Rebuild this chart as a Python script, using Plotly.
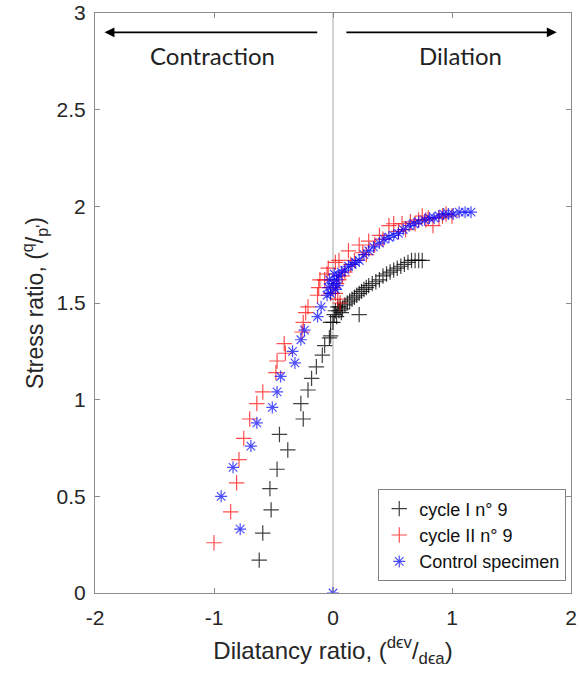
import plotly.graph_objects as go

# cycle I n° 9
c1_x = [-0.62, -0.59, -0.52, -0.53, -0.47, -0.38, -0.45, -0.25, -0.27, -0.21, -0.18, -0.14,
        -0.09, -0.07, -0.03, -0.02, -0.02, 0.00, 0.02, 0.01, 0.03, 0.05, 0.06, 0.08, 0.10,
        0.12, 0.14, 0.16, 0.18, 0.20, 0.22, 0.24, 0.26, 0.28, 0.30, 0.33, 0.36, 0.39, 0.42,
        0.45, 0.48, 0.51, 0.54, 0.57, 0.60, 0.63, 0.66, 0.69, 0.72, 0.75, 0.22, 0.04, 0.07]
c1_y = [0.17, 0.31, 0.43, 0.54, 0.64, 0.74, 0.82, 0.90, 0.98, 1.05, 1.11, 1.17,
        1.23, 1.28, 1.32, 1.33, 1.40, 1.40, 1.46, 1.44, 1.43, 1.46, 1.48, 1.47, 1.49,
        1.50, 1.51, 1.52, 1.53, 1.54, 1.55, 1.56, 1.57, 1.58, 1.59, 1.60, 1.61, 1.62, 1.64,
        1.65, 1.66, 1.67, 1.68, 1.69, 1.70, 1.71, 1.72, 1.72, 1.72, 1.72, 1.44, 1.48, 1.45]

# cycle II n° 9
c2_x = [-1.00, -0.86, -0.81, -0.79, -0.75, -0.70, -0.64, -0.59, -0.48, -0.47, -0.40, -0.41,
        -0.26, -0.25, -0.23, -0.21, -0.13, -0.12, -0.11, -0.04, 0.02, 0.05, 0.13, 0.22,
        0.30, 0.39, 0.47, 0.51, 0.61, 0.69, 0.78, 0.84, 0.89, 1.00,
        -0.02, 0.00, 0.02, 0.04, 0.03, 0.05, 0.08, 0.10, 0.15, 0.18, 0.25, 0.28, 0.35,
        0.42, 0.55, 0.58, 0.65, 0.72, 0.75, 0.80, 0.92, 0.95, -0.07, -0.05, 0.06]
c2_y = [0.26, 0.42, 0.57, 0.69, 0.80, 0.90, 0.98, 1.04, 1.14, 1.20, 1.24, 1.29,
        1.35, 1.40, 1.45, 1.48, 1.54, 1.58, 1.62, 1.68, 1.71, 1.72, 1.77, 1.80,
        1.82, 1.85, 1.90, 1.91, 1.88, 1.91, 1.93, 1.90, 1.94, 1.95,
        1.55, 1.58, 1.55, 1.52, 1.60, 1.62, 1.64, 1.66, 1.70, 1.72, 1.76, 1.75, 1.80,
        1.83, 1.87, 1.91, 1.92, 1.93, 1.95, 1.94, 1.95, 1.96, 1.62, 1.65, 1.50]

# Control specimen
ct_x = [0.00, -0.78, -0.94, -0.84, -0.69, -0.64, -0.51, -0.47, -0.44, -0.32, -0.34, -0.27,
        -0.24, -0.13, -0.10, -0.05, -0.04, -0.03, -0.02, 0.00, 0.01, 0.02, 0.03, 0.04,
        0.05, 0.07, 0.10, 0.13, 0.16, 0.19, 0.22, 0.26, 0.30, 0.34, 0.39, 0.43, 0.47,
        0.51, 0.55, 0.59, 0.64, 0.68, 0.72, 0.77, 0.81, 0.85, 0.89, 0.93, 0.97, 1.01,
        1.06, 1.11, 1.16]
ct_y = [0.00, 0.33, 0.50, 0.65, 0.76, 0.88, 0.96, 1.04, 1.12, 1.19, 1.25, 1.31,
        1.36, 1.43, 1.48, 1.54, 1.58, 1.62, 1.55, 1.60, 1.65, 1.57, 1.62, 1.59,
        1.64, 1.66, 1.67, 1.69, 1.70, 1.71, 1.72, 1.75, 1.77, 1.79, 1.81, 1.83, 1.84,
        1.85, 1.86, 1.88, 1.90, 1.91, 1.92, 1.93, 1.94, 1.94, 1.95, 1.96, 1.96, 1.96,
        1.97, 1.97, 1.97]

x_ticks = [-2, -1, 0, 1, 2]
y_ticks = [0, 0.5, 1, 1.5, 2, 2.5, 3]
y_labels = ["0", "0.5", "1", "1.5", "2", "2.5", "3"]

TXT = "#262626"
AX = "#8c8c8c"

fig = go.Figure()

# vertical line at zero
fig.add_trace(go.Scatter(x=[0, 0], y=[0, 3], mode="lines",
                         line=dict(color="#b8b8b8", width=1.2), showlegend=False, hoverinfo="skip"))

fig.add_trace(go.Scatter(x=c1_x, y=c1_y, mode="markers", name="cycle I n° 9",
                         marker=dict(symbol="cross-thin", size=11,
                                     line=dict(color="rgba(0,0,0,0.75)", width=1.2))))
fig.add_trace(go.Scatter(x=c2_x, y=c2_y, mode="markers", name="cycle II n° 9",
                         marker=dict(symbol="cross-thin", size=11,
                                     line=dict(color="rgba(255,0,0,0.7)", width=1.2))))
fig.add_trace(go.Scatter(x=ct_x, y=ct_y, mode="markers", name="Control specimen",
                         marker=dict(symbol="asterisk", size=10,
                                     line=dict(color="rgba(0,0,255,0.7)", width=1.2))))

# arrows + labels
fig.add_annotation(x=-1.92, y=2.9, ax=-0.12, ay=2.9, xref="x", yref="y", axref="x", ayref="y",
                   showarrow=True, arrowhead=2, arrowsize=1.1, arrowwidth=1.8, arrowcolor="black", text="")
fig.add_annotation(x=1.88, y=2.9, ax=0.1, ay=2.9, xref="x", yref="y", axref="x", ayref="y",
                   showarrow=True, arrowhead=2, arrowsize=1.1, arrowwidth=1.8, arrowcolor="black", text="")
fig.add_annotation(x=-1.01, y=2.78, text="Contraction", showarrow=False,
                   font=dict(family="Lato", size=24, color="#222"))
fig.add_annotation(x=1.07, y=2.78, text="Dilation", showarrow=False,
                   font=dict(family="Lato", size=24, color="#222"))

axis_style = dict(showline=True, linecolor=AX, linewidth=1, mirror="ticks",
                  ticks="inside", ticklen=5, tickcolor=AX, showgrid=False,
                  zeroline=False, automargin=False, ticklabeloverflow="allow",
                  tickfont=dict(family="Liberation Sans", size=21, color=TXT))

fig.update_xaxes(range=[-2, 2], tickvals=x_ticks, ticktext=[str(v) for v in x_ticks],
                 ticklabelstandoff=6,
                 title=dict(text="Dilatancy ratio, (<sup>dϵv</sup>/<sub>dϵa</sub>)",
                            font=dict(family="Liberation Sans", size=24, color=TXT), standoff=13),
                 **axis_style)
fig.update_yaxes(range=[0, 3], tickvals=y_ticks, ticktext=y_labels,
                 ticklabelstandoff=4,
                 title=dict(text="Stress ratio, (<sup>q</sup>/<sub>p'</sub>)",
                            font=dict(family="Liberation Sans", size=23, color=TXT), standoff=6),
                 **axis_style)

fig.update_layout(
    width=580, height=675,
    margin=dict(l=95, r=9, t=13, b=82),
    plot_bgcolor="white", paper_bgcolor="white",
    legend=dict(x=0.99, y=0.02, xanchor="right", yanchor="bottom",
                bordercolor="#808080", borderwidth=1, bgcolor="white",
                font=dict(family="Liberation Sans", size=18, color="#111"),
                tracegroupgap=0, itemwidth=30),
)

# drop the default page margin so the figure sits at the window's corner
fig.write_html("out.html", config={"displayModeBar": False},
               post_script="document.body.style.margin='0';")
